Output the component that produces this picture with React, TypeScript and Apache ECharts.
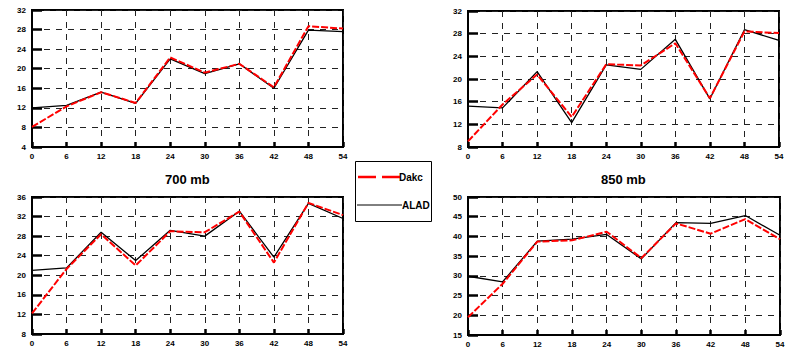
import React, { useEffect, useRef } from "react";
import * as echarts from "echarts";

const hours = [0, 6, 12, 18, 24, 30, 36, 42, 48, 54];

const tlDakc = [8.1, 12.3, 15.2, 13.0, 22.3, 19.2, 21.0, 16.2, 28.7, 28.2];
const tlAlad = [12.0, 12.5, 15.2, 12.9, 22.0, 19.0, 21.0, 16.0, 27.9, 27.6];

const trDakc = [9.0, 15.5, 20.8, 13.3, 22.6, 22.4, 26.3, 16.6, 28.4, 28.1];
const trAlad = [15.2, 14.9, 21.3, 12.3, 22.5, 21.7, 27.0, 16.5, 28.7, 26.8];

const blDakc = [12.2, 21.3, 28.4, 22.0, 29.0, 28.8, 33.0, 22.6, 34.8, 32.3];
const blAlad = [21.0, 21.5, 28.8, 23.0, 29.2, 28.0, 33.1, 23.7, 34.7, 31.6];

const brDakc = [19.5, 28.0, 38.7, 39.0, 41.2, 34.5, 43.3, 40.7, 44.4, 39.3];
const brAlad = [29.9, 28.5, 38.8, 39.3, 40.5, 34.3, 43.5, 43.3, 45.3, 40.3];

const yRanges = [
  { min: 4, max: 32, interval: 4 },
  { min: 8, max: 32, interval: 4 },
  { min: 8, max: 36, interval: 4 },
  { min: 15, max: 50, interval: 5 },
];

const titles = ["700 mb", "850 mb"];
const legendNames = ["Dakc", "ALAD"];

export default function App() {
  const ref = useRef<HTMLDivElement>(null);
  useEffect(() => {
    if (!ref.current) return;
    const chart = echarts.init(ref.current, undefined, { renderer: "svg" });
    const grids = [
      { left: 32, top: 10, width: 311, height: 137 },
      { left: 468, top: 11, width: 311, height: 136 },
      { left: 32, top: 197, width: 311, height: 137 },
      { left: 468, top: 197, width: 312, height: 138 },
    ];
    const pairs = [
      [tlDakc, tlAlad],
      [trDakc, trAlad],
      [blDakc, blAlad],
      [brDakc, brAlad],
    ];
    const labelStyle = {
      color: "#000",
      fontSize: 8,
      fontWeight: "bold" as const,
      fontFamily: "Liberation Sans, Arial, sans-serif",
    };
    const splitLine = {
      show: true,
      lineStyle: { color: "#222", type: [6, 6] as any, width: 1 },
    };
    const xAxes = grids.map((_, i) => ({
      type: "value" as const,
      gridIndex: i,
      min: 0,
      max: 54,
      interval: 6,
      axisLine: { show: true, lineStyle: { color: "#000", width: 2 } },
      axisTick: { show: true, inside: true, length: 5, lineStyle: { color: "#000", width: 2.5 } },
      axisLabel: { ...labelStyle, margin: 5 },
      splitLine,
    }));
    const yAxes = grids.map((_, i) => ({
      type: "value" as const,
      gridIndex: i,
      ...yRanges[i],
      axisLine: { show: true, lineStyle: { color: "#000", width: 2 } },
      axisTick: { show: true, inside: true, length: 10, lineStyle: { color: "#000", width: 2.5 } },
      axisLabel: { ...labelStyle, margin: 6 },
      splitLine,
    }));
    const series: any[] = [];
    pairs.forEach(([d, a], i) => {
      series.push({
        name: legendNames[1],
        type: "line",
        xAxisIndex: i,
        yAxisIndex: i,
        data: hours.map((h, k) => [h, a[k]]),
        showSymbol: false,
        lineStyle: { color: "#000", width: 1.3 },
        z: 3,
      });
      series.push({
        name: legendNames[0],
        type: "line",
        xAxisIndex: i,
        yAxisIndex: i,
        data: hours.map((h, k) => [h, d[k]]),
        showSymbol: false,
        lineStyle: { color: "#ff0000", width: 2, type: [7, 2] },
        z: 4,
      });
    });
    chart.setOption({
      animation: false,
      backgroundColor: "#fff",
      grid: grids.map((g) => ({
        ...g,
        show: true,
        borderColor: "#000",
        borderWidth: 2,
        backgroundColor: "transparent",
      })),
      xAxis: xAxes,
      yAxis: yAxes,
      series,
      graphic: [
        {
          type: "text",
          left: 165,
          top: 173,
          style: {
            text: titles[0],
            fill: "#000",
            font: "bold 13px Liberation Sans, Arial, sans-serif",
          },
        },
        {
          type: "text",
          left: 601,
          top: 173,
          style: {
            text: titles[1],
            fill: "#000",
            font: "bold 13px Liberation Sans, Arial, sans-serif",
          },
        },
        {
          type: "rect",
          shape: { x: 355.5, y: 161.5, width: 76, height: 60 },
          style: { fill: "#fff", stroke: "#000", lineWidth: 1 },
        },
        {
          type: "line",
          shape: { x1: 358, y1: 177, x2: 400, y2: 177 },
          style: { stroke: "#ff0000", lineWidth: 2.5, lineDash: [18, 6] },
        },
        {
          type: "line",
          shape: { x1: 357, y1: 205, x2: 402, y2: 205 },
          style: { stroke: "#000", lineWidth: 1 },
        },
        {
          type: "text",
          left: 399,
          top: 172,
          style: {
            text: legendNames[0],
            fill: "#000",
            font: "bold 10px Liberation Sans, Arial, sans-serif",
          },
        },
        {
          type: "text",
          left: 402,
          top: 200,
          style: {
            text: legendNames[1],
            fill: "#000",
            font: "bold 10px Liberation Sans, Arial, sans-serif",
          },
        },
      ],
    });
    return () => chart.dispose();
  }, []);
  return (
    <div
      ref={ref}
      style={{ position: "fixed", left: 0, top: 0, width: 791, height: 348 }}
    />
  );
}
